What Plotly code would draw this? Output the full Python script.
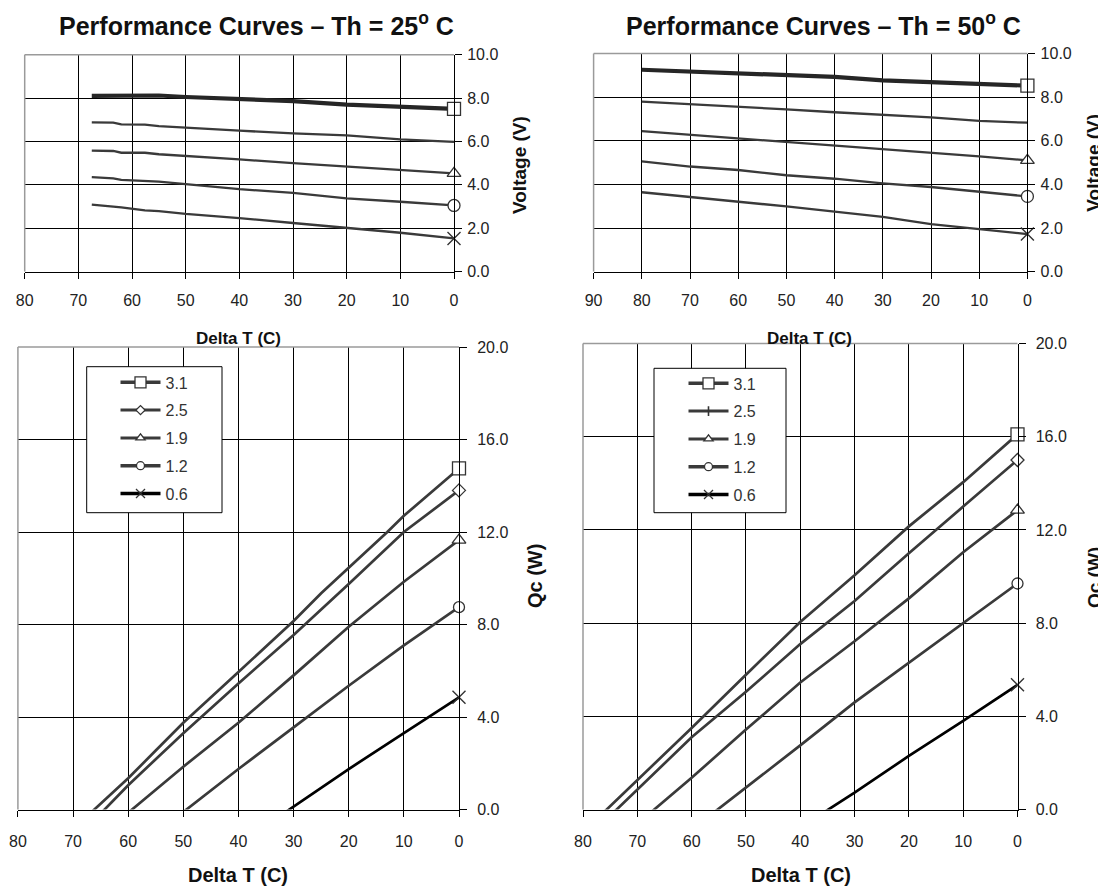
import plotly.graph_objects as go

FONT = "Liberation Sans, Arial, sans-serif"
TXT = "#222222"

currents = ["3.1", "2.5", "1.9", "1.2", "0.6"]

# ---------------- Th = 25 C : Voltage (top-left) ----------------
v25_dt = [67.5, 63.5, 62, 57.6, 55, 50, 40, 30, 20, 10, 0]
v25_i31 = [8.10, 8.12, 8.12, 8.12, 8.12, 8.05, 7.95, 7.86, 7.70, 7.60, 7.50]
v25_i25 = [6.88, 6.87, 6.79, 6.78, 6.71, 6.63, 6.50, 6.37, 6.28, 6.10, 5.98]
v25_i19 = [5.58, 5.56, 5.48, 5.48, 5.41, 5.32, 5.17, 5.00, 4.85, 4.68, 4.53]
v25_i12 = [4.36, 4.30, 4.23, 4.20, 4.15, 4.03, 3.80, 3.63, 3.38, 3.22, 3.05]
v25_i06 = [3.09, 3.00, 2.96, 2.82, 2.79, 2.66, 2.47, 2.24, 2.03, 1.79, 1.53]

# ---------------- Th = 50 C : Voltage (top-right) ----------------
v50_dt = [80, 70, 60, 50, 40, 30, 20, 10, 0]
v50_i31 = [9.26, 9.17, 9.09, 9.03, 8.93, 8.77, 8.69, 8.58, 8.53]
v50_i25 = [7.80, 7.69, 7.56, 7.44, 7.31, 7.20, 7.07, 6.91, 6.83]
v50_i19 = [6.44, 6.28, 6.10, 5.95, 5.79, 5.63, 5.45, 5.29, 5.10]
v50_i12 = [5.06, 4.82, 4.66, 4.42, 4.26, 4.05, 3.88, 3.67, 3.45]
v50_i06 = [3.64, 3.43, 3.20, 2.99, 2.75, 2.51, 2.18, 1.94, 1.72]

# ---------------- Th = 25 C : Qc (bottom-left) ----------------
q25_dt31 = [67.5, 60, 55, 50, 40, 30, 25, 20, 13, 10, 0]
q25_i31 = [-0.3, 1.35, 2.55, 3.75, 5.95, 8.15, 9.35, 10.45, 12.0, 12.7, 14.75]
q25_dt25 = [65.5, 60, 50, 40, 30, 20, 10, 0]
q25_i25 = [-0.3, 1.05, 3.3, 5.45, 7.55, 9.75, 12.0, 13.8]
q25_dt19 = [60.3, 50, 40, 30, 20, 10, 0]
q25_i19 = [-0.2, 1.85, 3.75, 5.8, 7.9, 9.85, 11.65]
q25_dt12 = [50.5, 40, 30, 20, 10, 0]
q25_i12 = [-0.2, 1.75, 3.55, 5.35, 7.1, 8.75]
q25_dt06 = [32, 30, 20, 10, 0]
q25_i06 = [-0.2, 0.13, 1.75, 3.3, 4.85]

# ---------------- Th = 50 C : Qc (bottom-right) ----------------
q50_dt31 = [77.2, 70, 60, 50, 40, 30, 20, 10, 0]
q50_i31 = [-0.35, 1.25, 3.5, 5.78, 8.05, 10.05, 12.15, 14.05, 16.1]
q50_dt25 = [75.4, 70, 60, 50, 40, 30, 20, 10, 0]
q50_i25 = [-0.36, 0.86, 3.1, 5.05, 7.1, 8.95, 11.0, 13.0, 15.0]
q50_dt19 = [68.7, 60, 50, 40, 30, 20, 10, 0]
q50_i19 = [-0.36, 1.36, 3.43, 5.45, 7.22, 9.06, 11.04, 12.85]
q50_dt12 = [57.2, 50, 40, 30, 20, 10, 0]
q50_i12 = [-0.36, 0.93, 2.75, 4.6, 6.31, 8.0, 9.7]
q50_dt06 = [36.5, 30, 20, 10, 0]
q50_i06 = [-0.25, 0.72, 2.3, 3.8, 5.35]

titles = ["Performance Curves – Th = 25<sup>o</sup> C",
          "Performance Curves – Th = 50<sup>o</sup> C"]
x_title = "Delta T (C)"
y_title_top = "Voltage (V)"
y_title_bot = "Qc (W)"

# the page body adds an 8px margin; the figure is sized to fill the window
OFF = 8
W, H = 1106 - OFF, 890 - OFF

def px(x):
    return (x - OFF) / W

def py(y):
    return 1 - (y - OFF) / H

fig = go.Figure()

# plot boxes (window pixel coords: left, right, top, bottom)
boxes = {
    "1": (24.7, 454.0, 54.7, 271.6),
    "2": (593.6, 1027.4, 53.6, 271.6),
    "3": (17.9, 459.0, 347.0, 809.5),
    "4": (583.0, 1017.5, 343.5, 809.5),
}

LINE = "#3a3a3a"
MK_LINE = "#333333"

symbols = ["square", "diamond", "triangle-up", "circle", "x-thin"]

def add_series(axn, dts, vals, widths, colors, end_syms, end_sizes):
    xa = "x" if axn == "1" else "x" + axn
    ya = "y" if axn == "1" else "y" + axn
    for dt, v, w, c in zip(dts, vals, widths, colors):
        fig.add_trace(go.Scatter(x=dt, y=v, mode="lines", xaxis=xa, yaxis=ya,
                                 line=dict(color=c, width=w), showlegend=False,
                                 hoverinfo="skip"))
    for dt, v, s, sz in zip(dts, vals, end_syms, end_sizes):
        if s is None:
            continue
        open_x = s.startswith("x")
        fig.add_trace(go.Scatter(
            x=[dt[-1]], y=[v[-1]], mode="markers", xaxis=xa, yaxis=ya,
            marker=dict(symbol=s, size=sz, color="white",
                        line=dict(color=MK_LINE, width=1.3 if not open_x else 1.4)),
            showlegend=False, cliponaxis=False, hoverinfo="skip"))

# top-left
add_series("1", [v25_dt] * 5, [v25_i31, v25_i25, v25_i19, v25_i12, v25_i06],
           [4.2, 2.3, 2.3, 2.3, 2.3], ["#262626"] + [LINE] * 4,
           ["square", None, "triangle-up", "circle", "x-thin"], [13, 0, 12, 12, 13])
# top-right
add_series("2", [v50_dt] * 5, [v50_i31, v50_i25, v50_i19, v50_i12, v50_i06],
           [4.2, 2.3, 2.3, 2.3, 2.3], ["#262626"] + [LINE] * 4,
           ["square", None, "triangle-up", "circle", "x-thin"], [13, 0, 12, 12, 13])
# bottom-left
add_series("3", [q25_dt31, q25_dt25, q25_dt19, q25_dt12, q25_dt06],
           [q25_i31, q25_i25, q25_i19, q25_i12, q25_i06],
           [2.7] * 5, [LINE] * 4 + ["#000000"],
           symbols, [13, 10, 12, 11, 13])
# bottom-right
add_series("4", [q50_dt31, q50_dt25, q50_dt19, q50_dt12, q50_dt06],
           [q50_i31, q50_i25, q50_i19, q50_i12, q50_i06],
           [2.7] * 5, [LINE] * 4 + ["#000000"],
           symbols, [13, 10, 12, 11, 13])

# legend entries
leg_syms = {
    "legend": ["square", "diamond", "triangle-up", "circle", "x-thin"],
    "legend2": ["square", "line-ns", "triangle-up", "circle", "x-thin"],
}
leg_sizes = [11, 7, 8, 8, 9]
leg_widths = [3.5, 3, 3, 3.5, 3.5]
for lg, axn in (("legend", "3"), ("legend2", "4")):
    for i, name in enumerate(currents):
        s = leg_syms[lg][i]
        fig.add_trace(go.Scatter(
            x=[None], y=[None], mode="lines+markers", name=name,
            xaxis="x" + axn, yaxis="y" + axn, legend=lg,
            legendgroup=lg + name,
            line=dict(color="#000000" if name == "0.6" else LINE, width=leg_widths[i]),
            marker=dict(symbol=s, size=leg_sizes[i], color="white",
                        line=dict(color=MK_LINE, width=1.3 if s != "line-ns" else 1.6)),
            showlegend=True))

axis_font = dict(family=FONT, size=16, color=TXT)

layout = dict(
    template="none",
    width=W, height=H, margin=dict(l=0, r=0, t=0, b=0, pad=0, autoexpand=False),
    paper_bgcolor="white", plot_bgcolor="white",
    font=dict(family=FONT, color=TXT),
    showlegend=True,
)

def xaxis_cfg(axn, rng, standoff):
    l, r, t, b = boxes[axn]
    return dict(domain=[px(l), px(r)], range=rng, dtick=10, tick0=0,
                showgrid=True, gridcolor="#000000", gridwidth=1,
                showline=True, linecolor="#000000", linewidth=1,
                ticks="outside", ticklen=6, tickcolor="#000000",
                zeroline=False, tickfont=axis_font, ticklabelstandoff=standoff,
                automargin=False,
                anchor="y" if axn == "1" else "y" + axn, fixedrange=True)

def yaxis_cfg(axn, rng, dtick, standoff):
    l, r, t, b = boxes[axn]
    return dict(domain=[py(b), py(t)], range=rng, dtick=dtick, tick0=0,
                side="right", tickformat=".1f",
                showgrid=True, gridcolor="#000000", gridwidth=1,
                showline=True, linecolor="#000000", linewidth=1,
                ticks="outside", ticklen=7, tickcolor="#000000",
                zeroline=False, tickfont=axis_font, ticklabelstandoff=standoff,
                automargin=False,
                anchor="x" if axn == "1" else "x" + axn, fixedrange=True)

layout["xaxis"] = xaxis_cfg("1", [80, 0], 8)
layout["yaxis"] = yaxis_cfg("1", [0, 10], 2, 2)
layout["xaxis2"] = xaxis_cfg("2", [90, 0], 8)
layout["yaxis2"] = yaxis_cfg("2", [0, 10], 2, 2)
layout["xaxis3"] = xaxis_cfg("3", [80, 0], 11)
layout["yaxis3"] = yaxis_cfg("3", [0, 20], 4, 7)
layout["xaxis4"] = xaxis_cfg("4", [80, 0], 11)
layout["yaxis4"] = yaxis_cfg("4", [0, 20], 4, 7)

leg_common = dict(bgcolor="rgba(0,0,0,0)", borderwidth=0,
                  font=dict(family=FONT, size=16, color="#333333"),
                  xanchor="left", yanchor="top", traceorder="grouped",
                  tracegroupgap=4, itemwidth=40)
layout["legend"] = dict(leg_common, x=px(115.5), y=py(365.4))
layout["legend2"] = dict(leg_common, x=px(683.5), y=py(366.4))

fig.update_layout(**layout)

# legend frames
for (l, t, r, b) in ((86.7, 366.7, 222.0, 512.7), (654.0, 368.3, 786.0, 512.7)):
    fig.add_shape(type="rect", xref="paper", yref="paper",
                  x0=px(l), x1=px(r), y0=py(b), y1=py(t),
                  line=dict(color="#000000", width=1), fillcolor="white", layer="above")

# frame (light grey top and left edges)
for axn in ("", "2", "3", "4"):
    xr, yr = "x" + axn + " domain", "y" + axn + " domain"
    fig.add_shape(type="line", xref=xr, yref=yr, x0=0, x1=1, y0=1, y1=1,
                  line=dict(color="#9a9a9a", width=1.5), layer="above")
    fig.add_shape(type="line", xref=xr, yref=yr, x0=0, x1=0, y0=0, y1=1,
                  line=dict(color="#9a9a9a", width=1.5), layer="above")

def ann(text, x, y, size, angle=0):
    fig.add_annotation(text=text, x=px(x), y=py(y), xref="paper", yref="paper",
                       showarrow=False, textangle=angle, xanchor="center", yanchor="middle",
                       font=dict(family=FONT, size=size, color="#111111"))

ann("<b>" + titles[0] + "</b>", 256.6, 24.5, 25)
ann("<b>" + titles[1] + "</b>", 823.7, 24.5, 25)
ann("<b>" + x_title + "</b>", 238, 339, 17)
ann("<b>" + x_title + "</b>", 809.6, 339, 17)
ann("<b>" + y_title_top + "</b>", 520, 165, 19, -90)
ann("<b>" + y_title_top + "</b>", 1092.7, 163, 19, -90)
ann("<b>" + x_title + "</b>", 237.5, 875, 20)
ann("<b>" + x_title + "</b>", 801, 874.5, 20)
ann("<b>" + y_title_bot + "</b>", 535.7, 576.4, 20, -90)
ann("<b>" + y_title_bot + "</b>", 1094, 578, 19, -90)

fig.write_html("out.html")
